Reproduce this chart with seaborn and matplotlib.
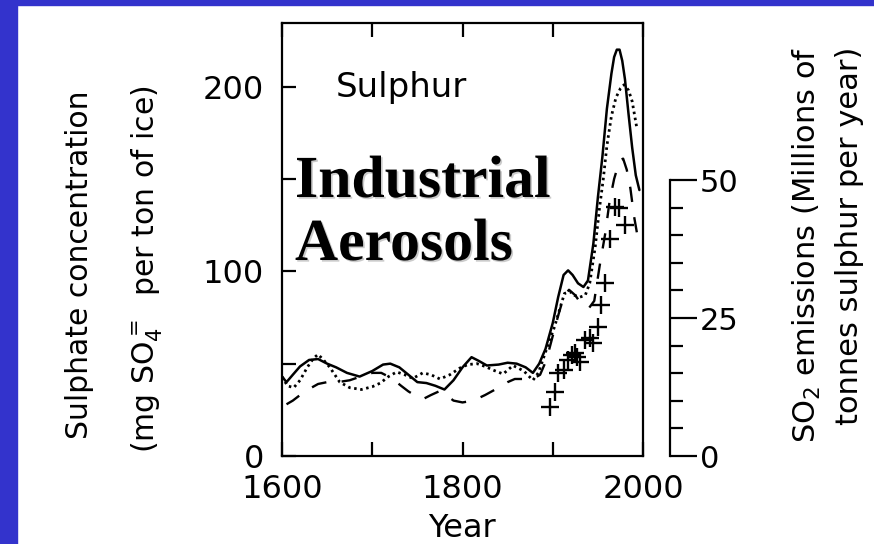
import matplotlib
matplotlib.use("Agg")
import matplotlib.pyplot as plt
import matplotlib.patheffects as pe
from matplotlib.patches import Rectangle
import seaborn as sns

sns.set_theme(style="white")
plt.rcParams['font.family'] = ['DejaVu Sans']
plt.rcParams['mathtext.fontset'] = 'dejavusans'
plt.rcParams['text.color'] = 'black'
plt.rcParams['axes.labelcolor'] = 'black'
plt.rcParams['xtick.color'] = 'black'
plt.rcParams['ytick.color'] = 'black'

# Sulphate concentration (mg SO4 per ton of ice), three ice cores
solid_years = [1600, 1605, 1612, 1620, 1630, 1640, 1650, 1660, 1672, 1686, 1700, 1712,
               1720, 1730, 1740, 1750, 1760, 1770, 1780, 1790, 1800, 1810, 1818, 1827,
               1840, 1850, 1860, 1870, 1878, 1885, 1892, 1900, 1906, 1912, 1917, 1922,
               1928, 1934, 1939, 1945, 1950, 1955, 1960, 1965, 1968, 1971, 1974, 1977,
               1980, 1984, 1988, 1992, 1996]
solid_vals = [43, 40, 44, 48.5, 52, 52.5, 50, 48, 45, 43, 46, 49.5,
              50, 48, 44, 40, 39.5, 38, 36, 41, 48, 53.5, 51.5, 49,
              49.5, 50.5, 50, 48, 45, 50, 58, 72, 86, 98, 100.5, 98,
              93.5, 91.5, 95, 115, 140, 162, 188, 207, 216, 220, 220, 214,
              204, 185, 167, 152, 144]

dotted_years = [1600, 1606, 1613, 1620, 1628, 1635, 1640, 1646, 1653, 1664, 1675, 1688,
                1700, 1709, 1718, 1727, 1736, 1745, 1756, 1765, 1775, 1786, 1797, 1806,
                1816, 1825, 1834, 1845, 1856, 1868, 1878, 1884, 1889, 1896, 1902, 1908,
                1913, 1919, 1924, 1930, 1936, 1941, 1947, 1952, 1956, 1960, 1965, 1970,
                1975, 1979, 1984, 1988, 1993]
dotted_vals = [43, 38, 37, 41, 48, 53, 55, 52, 48, 40, 37, 36,
               37.5, 39.5, 43, 45.5, 44, 42, 45, 44, 41.7, 44, 47.6, 49.5,
               50, 48.5, 46.5, 44.4, 49, 46, 41, 45, 52, 62, 70, 80,
               88, 89, 87, 86, 87, 93.6, 113, 135, 150, 168, 184, 194,
               199, 201, 198, 192, 178]

dashed_years = [1605, 1612, 1620, 1629, 1640, 1650, 1662, 1675, 1690, 1700, 1710, 1722,
                1732, 1740, 1750, 1757, 1765, 1774, 1782, 1790, 1800, 1812, 1825, 1840,
                1850, 1858, 1870, 1878, 1886, 1893, 1900, 1906, 1912, 1918, 1925, 1932,
                1940, 1946, 1952, 1958, 1963, 1968, 1974, 1978, 1982, 1986, 1990, 1995]
dashed_vals = [28, 30, 33, 36, 39, 40, 40, 41, 43.5, 45, 45, 42,
               38, 35, 32, 31, 33, 35, 33, 30, 29, 30, 33, 37,
               40, 41.7, 41.7, 41.7, 44, 52, 65, 76, 86, 90, 87, 82,
               80, 84, 103, 120, 138, 150, 160, 161, 155, 145, 130, 116]

# SO2 emissions (millions of tonnes sulphur per year)
so2_years = [1897, 1903, 1906, 1912, 1917, 1921, 1925, 1927, 1930, 1936, 1941, 1945,
             1950, 1954, 1958, 1963, 1969, 1973, 1980]
so2_vals = [8.9, 11.6, 15, 15.6, 17.4, 18.3, 18.6, 18, 17, 21, 21.3, 20.4,
            23.4, 27.4, 31.3, 39.4, 45.2, 44.9, 41.8]

fig = plt.figure(figsize=(8.74, 5.44), dpi=100)
fig.patch.set_facecolor('white')
blue = '#3333cc'
fig.patches.append(Rectangle((0, 0), 17 / 874, 1, transform=fig.transFigure,
                             color=blue, zorder=0))
fig.patches.append(Rectangle((0, 1 - 5 / 544), 1, 5 / 544, transform=fig.transFigure,
                             color=blue, zorder=0))

ax = fig.add_axes([282 / 874, 88 / 544, 361 / 874, 433.3 / 544])
ax.set_facecolor('none')

sns.lineplot(x=solid_years, y=solid_vals, ax=ax, color='black', lw=1.8)
sns.lineplot(x=dotted_years, y=dotted_vals, ax=ax, color='black', lw=2.0,
             linestyle=(0, (0.9, 1.3)))
sns.lineplot(x=dashed_years, y=dashed_vals, ax=ax, color='black', lw=1.7,
             linestyle=(0, (6.5, 6.5)))

ax.set_xlim(1600, 2000)
ax.set_ylim(0, 234.6)
ax.set_xticks([1600, 1800, 2000])
ax.set_xticks([1700, 1900], minor=True)
ax.set_yticks([0, 100, 200])
ax.set_yticks([50, 150], minor=True)

ax2 = ax.twinx()
sns.scatterplot(x=so2_years, y=so2_vals, ax=ax2, color='black', marker='+',
                s=160, linewidth=1.7)
ax2.set_ylim(0, 78.5)
ax2.set_xlim(1600, 2000)
for s in ['left', 'top', 'bottom']:
    ax2.spines[s].set_visible(False)
ax2.spines['right'].set_position(('axes', 1.0748))
ax2.spines['right'].set_bounds(0, 50)
ax2.spines['right'].set_color('black')
ax2.spines['right'].set_linewidth(1.6)
ax2.set_yticks([0, 25, 50])
ax2.set_yticks([5, 10, 15, 20, 30, 35, 40, 45], minor=True)
ax2.tick_params(axis='y', which='major', direction='out', length=19.5, width=1.6,
                labelsize=22, pad=2, right=True, color='black')
ax2.tick_params(axis='y', which='minor', direction='out', length=9.5, width=1.6,
                right=True, color='black')
ax2.set_ylabel('')

for s in ax.spines.values():
    s.set_visible(True)
    s.set_color('black')
    s.set_linewidth(1.6)
ax.tick_params(which='both', direction='in', length=10, width=1.6, color='black',
               top=True, bottom=True, left=True, right=False)
ax.tick_params(axis='both', which='major', labelsize=23, pad=13)
ax.set_ylabel('')
ax.set_xlabel('Year', fontsize=23, labelpad=6)
ax.grid(False)

ax.text(0.332, 0.8285, 'Sulphur', transform=ax.transAxes, ha='center',
        va='baseline', fontsize=24.5)

shadow = [pe.SimplePatchShadow(offset=(1.2, -1.2), shadow_rgbFace='0.6', alpha=0.5),
          pe.Normal()]
ax.text(0.036, (456 - 197) / 433.3, 'Industrial', transform=ax.transAxes,
        ha='left', va='baseline', fontsize=43, fontweight='bold', color='black',
        family=['Liberation Serif'], path_effects=shadow)
ax.text(0.036, (456 - 260) / 433.3, 'Aerosols', transform=ax.transAxes,
        ha='left', va='baseline', fontsize=43, fontweight='bold', color='black',
        family=['Liberation Serif'], path_effects=shadow)

fig.text(80 / 874, 1 - 265 / 544, 'Sulphate concentration', rotation=90,
         ha='center', va='center', fontsize=21.5)
fig.text(147 / 874, 1 - 269 / 544, r'(mg SO$_4^=$  per ton of ice)', rotation=90,
         ha='center', va='center', fontsize=21.5)
fig.text(807 / 874, 1 - 245 / 544, r'SO$_2$ emissions (Millions of', rotation=90,
         ha='center', va='center', fontsize=22)
fig.text(850 / 874, 1 - 236 / 544, 'tonnes sulphur per year)', rotation=90,
         ha='center', va='center', fontsize=22)

fig.savefig('out.png', dpi=100)
